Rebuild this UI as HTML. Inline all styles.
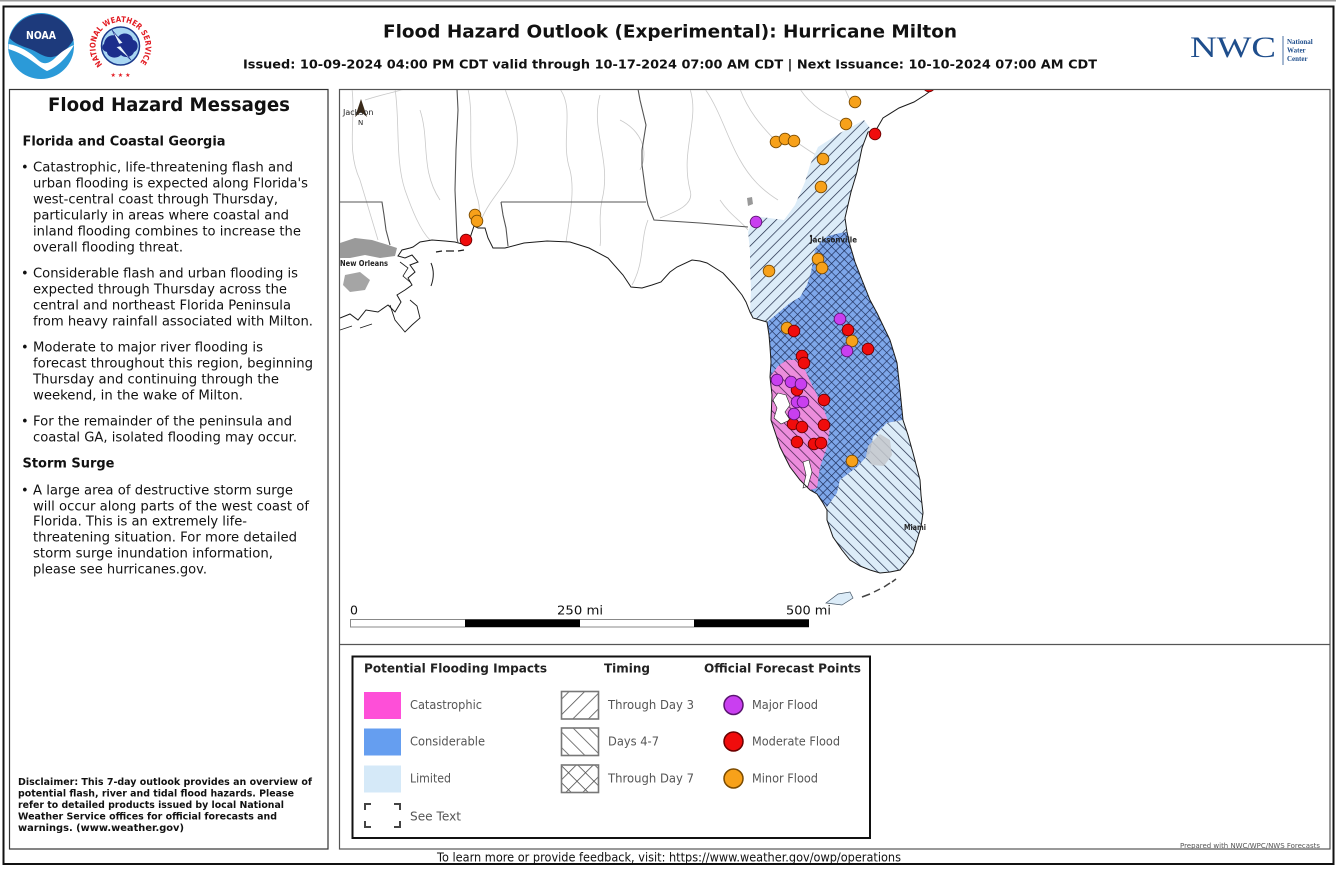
<!DOCTYPE html>
<html><head><meta charset="utf-8"><style>
html,body{margin:0;padding:0;background:#fff;}
svg{display:block;}
</style></head><body>
<svg width="1336" height="869" viewBox="0 0 1336 869" xmlns="http://www.w3.org/2000/svg" font-family="'DejaVu Sans', Verdana, sans-serif">
<defs>
  <pattern id="pNE" patternUnits="userSpaceOnUse" width="8" height="8" patternTransform="rotate(45)"><rect width="8" height="8" fill="#dcecf8"/><line x1="0" y1="0" x2="0" y2="8" stroke="#1c2844" stroke-width="1.4"/></pattern>
  <pattern id="pS" patternUnits="userSpaceOnUse" width="8" height="8" patternTransform="rotate(-45)"><rect width="8" height="8" fill="#dcecf8"/><line x1="0" y1="0" x2="0" y2="8" stroke="#1c2844" stroke-width="1.4"/></pattern>
  <pattern id="pPink" patternUnits="userSpaceOnUse" width="7.5" height="7.5" patternTransform="rotate(-45)"><rect width="7.5" height="7.5" fill="#ec8ddc"/><line x1="0" y1="0" x2="0" y2="7.5" stroke="#3a1a44" stroke-width="1.4"/></pattern>
  <pattern id="pX" patternUnits="userSpaceOnUse" width="6" height="6" patternTransform="rotate(45)"><rect width="6" height="6" fill="#7ea7ea"/><line x1="0" y1="0" x2="0" y2="6" stroke="#1b2a55" stroke-width="1.3"/><line x1="0" y1="0" x2="6" y2="0" stroke="#1b2a55" stroke-width="1.3"/></pattern>
  <pattern id="lT3" patternUnits="userSpaceOnUse" width="11" height="11" patternTransform="rotate(45)"><rect width="11" height="11" fill="#fff"/><line x1="0" y1="0" x2="0" y2="11" stroke="#555" stroke-width="1.6"/></pattern>
  <pattern id="lT47" patternUnits="userSpaceOnUse" width="11" height="11" patternTransform="rotate(-45)"><rect width="11" height="11" fill="#fff"/><line x1="0" y1="0" x2="0" y2="11" stroke="#555" stroke-width="1.6"/></pattern>
  <pattern id="lT7" patternUnits="userSpaceOnUse" width="12" height="12" patternTransform="rotate(45)"><rect width="12" height="12" fill="#fff"/><line x1="0" y1="0" x2="0" y2="12" stroke="#555" stroke-width="1.6"/><line x1="0" y1="0" x2="12" y2="0" stroke="#555" stroke-width="1.6"/></pattern>
  <clipPath id="mapclip"><rect x="340" y="90" width="990" height="554"/></clipPath>
  <path id="nwsring" d="M102.6,64.4 A25,25 0 1 1 138.4,64.4"/>
</defs>

<rect x="0" y="0" width="1336" height="869" fill="#fff"/>
<rect x="0" y="0" width="1336" height="1.5" fill="#9a9a9a"/>
<rect x="3.5" y="6.5" width="1330" height="857.5" fill="none" stroke="#111" stroke-width="2"/>

<!-- NOAA logo -->
<circle cx="41" cy="46" r="33" fill="#2b9ad8"/>
<path d="M9.5,38 A33,33 0 0 1 73.5,40 C67,50 60,56 52,57 C44,58 38,52 30,49 C22,46 15,44 9.5,38 Z" fill="#1d3a7c"/>
<path d="M8.5,44 C20,46 30,52 38,60 C43,65 49,64 55,58 C61,52 67,48 74,45 C68,56 58,67 47,71 C38,67 28,55 8.5,49 Z" fill="#fff"/>
<text x="41" y="39" font-size="11" font-weight="bold" fill="#fff" text-anchor="middle" textLength="30" lengthAdjust="spacingAndGlyphs">NOAA</text>

<!-- NWS logo -->
<circle cx="120.5" cy="46" r="32" fill="#fff"/>
<text font-size="8" font-weight="bold" fill="#e21c23"><textPath href="#nwsring" textLength="114" lengthAdjust="spacingAndGlyphs">NATIONAL WEATHER SERVICE</textPath></text>
<text x="120.5" y="77" font-size="6" fill="#e21c23" text-anchor="middle">★ ★ ★</text>
<circle cx="120.5" cy="46" r="19" fill="#a9d6f2" stroke="#1b3a8c" stroke-width="1.5"/>
<path d="M104,44 C105,36 113,33 118,37 C122,31 132,33 133,40 C139,41 139,50 134,52 C132,58 124,58 121,55 C116,60 107,57 107,52 C102,51 101,46 104,44 Z" fill="#1c2e8c"/>
<path d="M112,30 L123,43 L119,44 L131,60 L116,47 L120,46 Z" fill="#e8f4fc" stroke="#1c2e8c" stroke-width="0.6"/>

<!-- Title -->
<text x="383" y="37.5" font-size="18" font-weight="bold" fill="#111" textLength="574" lengthAdjust="spacingAndGlyphs">Flood Hazard Outlook (Experimental): Hurricane Milton</text>
<text x="243" y="68.5" font-size="12.5" font-weight="bold" fill="#111" textLength="854" lengthAdjust="spacingAndGlyphs">Issued: 10-09-2024 04:00 PM CDT valid through 10-17-2024 07:00 AM CDT | Next Issuance: 10-10-2024 07:00 AM CDT</text>

<!-- NWC logo -->
<text x="1190" y="57" font-family="'Liberation Serif', serif" font-size="30" fill="#1f4e8c" textLength="86" lengthAdjust="spacingAndGlyphs">NWC</text>
<line x1="1283" y1="36" x2="1283" y2="65" stroke="#1f4e8c" stroke-width="0.8"/>
<text x="1287" y="44" font-family="'Liberation Serif', serif" font-size="7" font-weight="bold" fill="#1f4e8c">National</text>
<text x="1287" y="52.5" font-family="'Liberation Serif', serif" font-size="7" font-weight="bold" fill="#1f4e8c">Water</text>
<text x="1287" y="61" font-family="'Liberation Serif', serif" font-size="7" font-weight="bold" fill="#1f4e8c">Center</text>

<!-- Left panel -->
<rect x="9.5" y="89.5" width="318.5" height="759.5" fill="none" stroke="#333" stroke-width="1.2"/>
<text x="48" y="111" font-size="19" font-weight="bold" fill="#111" textLength="242" lengthAdjust="spacingAndGlyphs">Flood Hazard Messages</text>
<text x="22.5" y="145.7" font-size="13" font-weight="bold" fill="#111" textLength="203" lengthAdjust="spacingAndGlyphs">Florida and Coastal Georgia</text>
<g font-size="13" fill="#111">
<text x="21" y="171.5">•</text>
<text x="33" y="171.5" textLength="260" lengthAdjust="spacingAndGlyphs">Catastrophic, life-threatening flash and</text>
<text x="33" y="187.5" textLength="275" lengthAdjust="spacingAndGlyphs">urban flooding is expected along Florida's</text>
<text x="33" y="203.5" textLength="245" lengthAdjust="spacingAndGlyphs">west-central coast through Thursday,</text>
<text x="33" y="219.5" textLength="256" lengthAdjust="spacingAndGlyphs">particularly in areas where coastal and</text>
<text x="33" y="235.5" textLength="268" lengthAdjust="spacingAndGlyphs">inland flooding combines to increase the</text>
<text x="33" y="251.5" textLength="150" lengthAdjust="spacingAndGlyphs">overall flooding threat.</text>
<text x="21" y="277.5">•</text>
<text x="33" y="277.5" textLength="265" lengthAdjust="spacingAndGlyphs">Considerable flash and urban flooding is</text>
<text x="33" y="293.5" textLength="254" lengthAdjust="spacingAndGlyphs">expected through Thursday across the</text>
<text x="33" y="309.5" textLength="258" lengthAdjust="spacingAndGlyphs">central and northeast Florida Peninsula</text>
<text x="33" y="325.5" textLength="280" lengthAdjust="spacingAndGlyphs">from heavy rainfall associated with Milton.</text>
<text x="21" y="351.5">•</text>
<text x="33" y="351.5" textLength="230" lengthAdjust="spacingAndGlyphs">Moderate to major river flooding is</text>
<text x="33" y="367.5" textLength="280" lengthAdjust="spacingAndGlyphs">forecast throughout this region, beginning</text>
<text x="33" y="383.5" textLength="246" lengthAdjust="spacingAndGlyphs">Thursday and continuing through the</text>
<text x="33" y="399.5" textLength="210" lengthAdjust="spacingAndGlyphs">weekend, in the wake of Milton.</text>
<text x="21" y="425.5">•</text>
<text x="33" y="425.5" textLength="259" lengthAdjust="spacingAndGlyphs">For the remainder of the peninsula and</text>
<text x="33" y="441.5" textLength="264" lengthAdjust="spacingAndGlyphs">coastal GA, isolated flooding may occur.</text>
<text x="21" y="494.5">•</text>
<text x="33" y="494.5" textLength="260" lengthAdjust="spacingAndGlyphs">A large area of destructive storm surge</text>
<text x="33" y="510.5" textLength="276" lengthAdjust="spacingAndGlyphs">will occur along parts of the west coast of</text>
<text x="33" y="525.5" textLength="214" lengthAdjust="spacingAndGlyphs">Florida. This is an extremely life-</text>
<text x="33" y="541.5" textLength="264" lengthAdjust="spacingAndGlyphs">threatening situation. For more detailed</text>
<text x="33" y="557.5" textLength="240" lengthAdjust="spacingAndGlyphs">storm surge inundation information,</text>
<text x="33" y="573.5" textLength="174" lengthAdjust="spacingAndGlyphs">please see hurricanes.gov.</text>
</g>
<text x="22.5" y="467.7" font-size="13" font-weight="bold" fill="#111" textLength="92" lengthAdjust="spacingAndGlyphs">Storm Surge</text>
<g font-size="10" font-weight="bold" fill="#111">
<text x="18" y="785" textLength="294" lengthAdjust="spacingAndGlyphs">Disclaimer: This 7-day outlook provides an overview of</text>
<text x="18" y="796.5" textLength="276" lengthAdjust="spacingAndGlyphs">potential flash, river and tidal flood hazards. Please</text>
<text x="18" y="808" textLength="266" lengthAdjust="spacingAndGlyphs">refer to detailed products issued by local National</text>
<text x="18" y="819.5" textLength="259" lengthAdjust="spacingAndGlyphs">Weather Service offices for official forecasts and</text>
<text x="18" y="831" textLength="166" lengthAdjust="spacingAndGlyphs">warnings. (www.weather.gov)</text>
</g>

<!-- Map panel -->
<rect x="339.5" y="89.5" width="990.5" height="759.5" fill="none" stroke="#555" stroke-width="1.2"/>
<line x1="339.5" y1="644.5" x2="1330" y2="644.5" stroke="#555" stroke-width="1.2"/>

<g clip-path="url(#mapclip)">
  <!-- rivers -->
  <g fill="none" stroke="#c9c9c9" stroke-width="0.8">
    <path d="M352,89 C356,120 346,150 360,180 C366,200 372,220 378,240"/>
    <path d="M395,89 C400,120 395,160 405,190 C412,210 420,230 430,240"/>
    <path d="M468,89 C475,120 465,160 478,200 C482,215 476,222 474,226"/>
    <path d="M505,89 C512,110 522,130 515,160 C512,180 492,195 482,218"/>
    <path d="M560,89 C575,110 560,140 570,170 C575,190 570,215 566,242"/>
    <path d="M600,95 C590,130 612,160 602,200 C598,220 602,235 600,246"/>
    <path d="M690,89 C700,120 680,150 690,190 C695,205 675,212 660,218"/>
    <path d="M648,220 C640,240 645,262 632,285"/>
    <path d="M705,89 C720,110 728,140 740,160 C750,178 762,190 778,200"/>
    <path d="M740,89 C748,110 760,125 776,141 L795,141 C805,148 815,155 823,159 C832,162 840,160 852,166"/>
    <path d="M757,235 C752,260 758,290 754,318"/>
    <path d="M800,89 C812,108 830,116 846,124"/>
    <path d="M845,89 L849,98 L854,102"/>
    <path d="M620,120 C640,130 650,150 640,170"/>
    <path d="M420,110 C430,140 420,170 440,200"/>
    <path d="M720,200 C730,215 740,220 748,230"/>
    <path d="M365,100 C380,95 395,92 405,89"/>
  </g>
  <!-- lakes -->
  <path d="M340,243 L355,238 L372,240 L385,244 L397,248 L395,256 L380,258 L365,255 L350,258 L340,258 Z" fill="#9a9a9a"/>
  <path d="M345,275 L360,272 L370,280 L365,290 L350,292 L343,285 Z" fill="#a5a5a5"/>
  <path d="M747,198 L752,197 L753,204 L748,206 Z" fill="#999"/>

  <!-- hazard regions -->
  <path d="M864,120 L870,128 L868,132 L862,148 L857,172 L851,192 L845,218 L847,232 L840,233 L828,236 L822,240 L815,250 L811,272 L807,285 L800,297 L790,303 L772,318 L767,322 L760,320 L753,318 L750,312 L751,290 L750,265 L750,250 L748,232 L752,222 L761,217 L784,220 L795,205 L805,182 L810,165 L818,147 L840,133 Z" fill="url(#pNE)"/>
  <path d="M828,236 L840,233 L847,232 L850,245 L855,262 L862,280 L870,300 L877,313 L890,340 L897,363 L900,390 L903,420 L887,423 L873,437 L870,453 L857,467 L840,480 L837,493 L827,507 L823,503 L817,494 L810,490 L800,480 L790,467 L780,447 L776,435 L771,420 L772,395 L770,377 L771,362 L770,347 L769,335 L767,322 L772,318 L790,303 L800,297 L807,285 L811,272 L815,250 L822,240 Z" fill="url(#pX)"/>
  <path d="M903,420 L908,435 L913,453 L920,480 L921,495 L923,513 L921,527 L917,540 L913,553 L906,563 L900,570 L890,572 L880,573 L870,570 L860,566 L850,560 L842,550 L833,537 L827,520 L827,507 L837,493 L840,480 L857,467 L870,453 L873,437 L887,423 Z" fill="url(#pS)"/>
  <path d="M868,446 L880,434 L890,440 L892,455 L884,466 L872,465 L866,456 Z" fill="#c4c8cc" opacity="0.85"/>
  <path d="M770,377 L772,395 L771,420 L776,435 L780,447 L790,467 L800,480 L810,490 L817,488 L820,467 L827,447 L830,427 L823,407 L813,387 L805,370 L800,360 L787,360 L778,366 Z" fill="url(#pPink)"/>
  <!-- Tampa Bay / Charlotte Harbor -->
  <path d="M778,393 L786,395 L790,405 L785,412 L790,420 L781,424 L774,418 L777,408 L773,400 Z" fill="#fff" stroke="#222" stroke-width="0.6"/>
  <path d="M803,462 L809,460 L812,472 L808,486 L803,488 L806,475 Z" fill="#fff" stroke="#222" stroke-width="0.6"/>
  <!-- Keys -->
  <path d="M826,603 L838,594 L850,592 L853,598 L842,605 Z" fill="#dcecf8" stroke="#456" stroke-width="0.7"/>
  <path d="M862,597 L870,594 M874,592 L880,589 M884,587 L890,583 M892,582 L896,579" stroke="#444" stroke-width="1.5" fill="none"/>

  <!-- coastline -->
  <path d="M340,318 L350,314 L358,320 L366,310 L378,312 L388,305 L395,312 L401,302 L397,295 L405,290 L412,285 L408,278 L415,272 L410,265 L418,262 L412,255 L405,258 L398,256 L402,250 L410,248 L413,247 L420,242 L432,240 L445,241 L455,242 L466,245 L470,238 L474,226 L478,228 L485,228 L488,238 L493,248 L505,248 L524,243 L547,241 L570,242 L589,248 L608,258 L623,275 L631,287 L642,288 L652,285 L661,282 L670,272 L677,267 L692,260 L700,261 L707,263 L715,268 L723,273 L734,285 L742,295 L746,302 L750,312 L753,318 L760,320 L767,322 L769,335 L770,347 L771,362 L770,377 L772,395 L771,420 L776,435 L780,447 L790,467 L800,480 L810,490 L817,494 L823,503 L827,510 L827,520 L833,537 L842,550 L850,560 L860,566 L870,570 L880,573 L890,572 L900,570 L906,563 L913,553 L917,540 L921,527 L923,513 L921,495 L920,480 L913,453 L908,435 L903,420 L900,390 L897,363 L890,340 L877,313 L870,300 L862,280 L855,262 L850,245 L847,232 L845,218 L851,192 L857,172 L862,148 L868,132 L876,130 L883,118 L899,108 L914,102 L925,95 L933,89" fill="none" stroke="#1a1a1a" stroke-width="1"/>
  <path d="M390,305 L395,320 L405,332 L412,325 L420,318 L417,306 L410,300" fill="none" stroke="#1a1a1a" stroke-width="0.9"/>
  <path d="M400,262 L408,268 L403,276 L410,282" fill="none" stroke="#1a1a1a" stroke-width="0.8"/>
  <path d="M431,263 C434,270 434,278 431,286" fill="none" stroke="#1a1a1a" stroke-width="1"/>
  <path d="M436,252 L442,251 M446,251 L454,251 M458,251 L464,250" stroke="#1a1a1a" stroke-width="1.2"/>
  <path d="M340,330 L352,326 M360,328 L372,324" stroke="#1a1a1a" stroke-width="0.8"/>

  <!-- state borders -->
  <g fill="none" stroke="#555" stroke-width="1.1">
    <path d="M457,89 L458,110 L456,150 L455,190 L457,238 L458,243"/>
    <path d="M340,202 L382,202 L384,215 L386,230 L390,245"/>
    <path d="M501,202 L646,202"/>
    <path d="M501,202 L503,215 L506,228 L508,246"/>
    <path d="M638,89 L640,100 L646,125 L642,150 L642,165 L646,195 L648,205 L654,220 L700,223 L748,227"/>
  </g>

  <!-- labels -->
  <polygon points="361,99 367,117 361,112 355,117" fill="#3a2a1a"/>
  <text x="343" y="115" font-size="8" fill="#222">Jackson</text>
  <text x="358" y="125" font-size="7" fill="#222">N</text>
  <text x="340" y="266" font-size="7.5" font-weight="bold" fill="#222" textLength="48" lengthAdjust="spacingAndGlyphs">New Orleans</text>
  <circle cx="811" cy="236" r="1.2" fill="#222"/>
  <text x="810" y="242.5" font-size="7.5" font-weight="bold" fill="#222" textLength="47" lengthAdjust="spacingAndGlyphs">Jacksonville</text>
  <text x="904" y="530" font-size="7.5" font-weight="bold" fill="#222" textLength="22" lengthAdjust="spacingAndGlyphs">Miami</text>

  <!-- forecast points -->
  <g stroke-width="0.9">
    <g fill="#f7a11a" stroke="#7a4a00">
      <circle cx="855" cy="102" r="5.8"/><circle cx="846" cy="124" r="5.8"/>
      <circle cx="776" cy="142" r="5.8"/><circle cx="785" cy="139" r="5.8"/><circle cx="794" cy="141" r="5.8"/>
      <circle cx="823" cy="159" r="5.8"/><circle cx="821" cy="187" r="5.8"/>
      <circle cx="475" cy="215" r="5.8"/><circle cx="477" cy="221" r="5.8"/>
      <circle cx="769" cy="271" r="5.8"/><circle cx="818" cy="259" r="5.8"/><circle cx="822" cy="268" r="5.8"/>
      <circle cx="787" cy="328" r="5.8"/><circle cx="852" cy="341" r="5.8"/><circle cx="852" cy="461" r="5.8"/>
    </g>
    <g fill="#f00c0c" stroke="#6a0000">
      <circle cx="875" cy="134" r="5.8"/><circle cx="466" cy="240" r="5.8"/><circle cx="929" cy="86" r="5.8"/>
      <circle cx="794" cy="331" r="5.8"/><circle cx="848" cy="330" r="5.8"/><circle cx="868" cy="349" r="5.8"/>
      <circle cx="802" cy="356" r="5.8"/><circle cx="804" cy="363" r="5.8"/>
      <circle cx="797" cy="390" r="5.8"/>
      <circle cx="824" cy="400" r="5.8"/><circle cx="793" cy="424" r="5.8"/><circle cx="802" cy="427" r="5.8"/>
      <circle cx="824" cy="425" r="5.8"/><circle cx="797" cy="442" r="5.8"/><circle cx="814" cy="444" r="5.8"/><circle cx="821" cy="443" r="5.8"/>
    </g>
    <g fill="#c93ff0" stroke="#5a1470">
      <circle cx="756" cy="222" r="5.8"/><circle cx="840" cy="319" r="5.8"/><circle cx="847" cy="351" r="5.8"/>
      <circle cx="777" cy="380" r="5.8"/><circle cx="791" cy="382" r="5.8"/><circle cx="801" cy="384" r="5.8"/>
      <circle cx="797" cy="402" r="5.8"/><circle cx="803" cy="402" r="5.8"/><circle cx="794" cy="414" r="5.8"/>
    </g>
  </g>
</g>

<!-- scale bar -->
<text x="350" y="614.5" font-size="12.5" fill="#111">0</text>
<text x="557" y="614.5" font-size="12.5" fill="#111" textLength="46" lengthAdjust="spacingAndGlyphs">250 mi</text>
<text x="786" y="614.5" font-size="12.5" fill="#111" textLength="45" lengthAdjust="spacingAndGlyphs">500 mi</text>
<rect x="350.5" y="619.5" width="458" height="7.5" fill="#fff" stroke="#888" stroke-width="1"/>
<rect x="465" y="619.5" width="115" height="7.5" fill="#000"/>
<rect x="694" y="619.5" width="115" height="7.5" fill="#000"/>

<!-- legend -->
<rect x="352.5" y="656.5" width="517.5" height="181.5" fill="#fff" stroke="#111" stroke-width="2"/>
<text x="364" y="672.5" font-size="12.5" font-weight="bold" fill="#222" textLength="183" lengthAdjust="spacingAndGlyphs">Potential Flooding Impacts</text>
<text x="604" y="672.5" font-size="12.5" font-weight="bold" fill="#222" textLength="46" lengthAdjust="spacingAndGlyphs">Timing</text>
<text x="704" y="672.5" font-size="12.5" font-weight="bold" fill="#222" textLength="157" lengthAdjust="spacingAndGlyphs">Official Forecast Points</text>

<rect x="364" y="692" width="37" height="27" fill="#fe4fd8"/>
<rect x="364" y="728.5" width="37" height="27" fill="#659ef0"/>
<rect x="364" y="765.5" width="37" height="27" fill="#d5e9f8"/>
<g fill="none" stroke="#444" stroke-width="2">
  <path d="M365,810 L365,804 L371,804"/><path d="M394,804 L400,804 L400,810"/>
  <path d="M365,821 L365,827 L371,827"/><path d="M394,827 L400,827 L400,821"/>
</g>
<g font-size="12" fill="#555">
  <text x="410" y="709" textLength="72" lengthAdjust="spacingAndGlyphs">Catastrophic</text>
  <text x="410" y="745.5" textLength="75" lengthAdjust="spacingAndGlyphs">Considerable</text>
  <text x="410" y="782.5" textLength="41" lengthAdjust="spacingAndGlyphs">Limited</text>
  <text x="410" y="820.5" textLength="51" lengthAdjust="spacingAndGlyphs">See Text</text>
  <text x="608" y="709" textLength="86" lengthAdjust="spacingAndGlyphs">Through Day 3</text>
  <text x="608" y="745.5" textLength="51" lengthAdjust="spacingAndGlyphs">Days 4-7</text>
  <text x="608" y="782.5" textLength="86" lengthAdjust="spacingAndGlyphs">Through Day 7</text>
  <text x="752" y="709" textLength="66" lengthAdjust="spacingAndGlyphs">Major Flood</text>
  <text x="752" y="745.5" textLength="88" lengthAdjust="spacingAndGlyphs">Moderate Flood</text>
  <text x="752" y="782.5" textLength="66" lengthAdjust="spacingAndGlyphs">Minor Flood</text>
</g>
<rect x="561.5" y="691.5" width="37" height="27.5" fill="url(#lT3)" stroke="#777" stroke-width="1.6"/>
<rect x="561.5" y="728" width="37" height="27.5" fill="url(#lT47)" stroke="#777" stroke-width="1.6"/>
<rect x="561.5" y="765" width="37" height="27.5" fill="url(#lT7)" stroke="#777" stroke-width="1.6"/>
<circle cx="733.5" cy="705" r="9.5" fill="#c93ff0" stroke="#5a1470" stroke-width="1.5"/>
<circle cx="733.5" cy="741.5" r="9.5" fill="#f00c0c" stroke="#6a0000" stroke-width="1.5"/>
<circle cx="733.5" cy="778.5" r="9.5" fill="#f7a11a" stroke="#7a4a00" stroke-width="1.5"/>

<text x="1180" y="848" font-size="7" fill="#555" textLength="140" lengthAdjust="spacingAndGlyphs">Prepared with NWC/WPC/NWS Forecasts</text>
<text x="437" y="861.5" font-size="12" fill="#111" textLength="464" lengthAdjust="spacingAndGlyphs">To learn more or provide feedback, visit: https://www.weather.gov/owp/operations</text>
</svg>
</body></html>
